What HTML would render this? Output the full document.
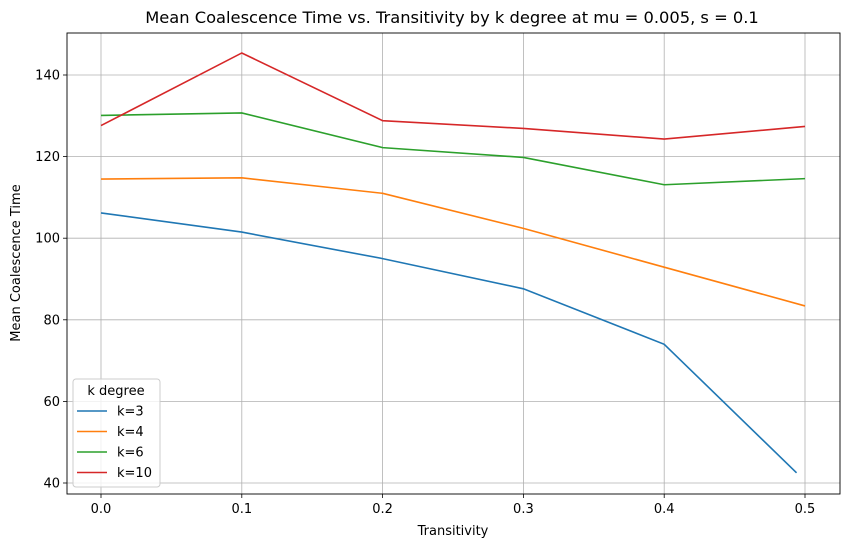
<!DOCTYPE html>
<html><head><meta charset="utf-8"><style>
body{margin:0;background:#fff;}
svg{font-family:"DejaVu Sans","Liberation Sans",sans-serif;}
</style></head><body>
<svg id="chart" width="850" height="547" viewBox="0 0 850 547">
<rect x="0" y="0" width="850" height="547" fill="#fff"/>
<text x="452" y="23" text-anchor="middle" font-size="16.3">Mean Coalescence Time vs. Transitivity by k degree at mu = 0.005, s = 0.1</text>
<g id="grid"></g>
<g id="series"></g>
<rect x="67" y="33" width="773" height="461" fill="none" stroke="#000" stroke-width="0.9"/>
<g id="ticks"></g>
<text x="453" y="535" text-anchor="middle" font-size="13">Transitivity</text>
<text transform="translate(20,263) rotate(-90)" text-anchor="middle" font-size="13">Mean Coalescence Time</text>
<g id="legend">
<rect x="73" y="379" width="87" height="108" rx="3" fill="#fff" fill-opacity="0.8" stroke="#ccc"/>
<text x="116" y="395" text-anchor="middle" font-size="13">k degree</text>
</g>
</svg>
<script>
const xs = [0.0, 0.1, 0.2, 0.3, 0.4, 0.5];
const xsK3 = [0.0, 0.1, 0.2, 0.3, 0.4, 0.494];
const k3 = [106.2, 101.5, 95.0, 87.6, 74.0, 42.5];
const k4 = [114.5, 114.8, 111.0, 102.4, 92.9, 83.4];
const k6 = [130.1, 130.7, 122.2, 119.8, 113.1, 114.6];
const k10 = [127.6, 145.4, 128.8, 126.9, 124.3, 127.4];
const labels = ["k=3", "k=4", "k=6", "k=10"];
const xTicks = [0.0, 0.1, 0.2, 0.3, 0.4, 0.5];
const yTicks = [40, 60, 80, 100, 120, 140];

const NS = "http://www.w3.org/2000/svg";
function X(v){return 101 + v*1408;}
function Y(v){return 483 - (v-40)*4.08;}
function mk(tag, attrs, parent){const e=document.createElementNS(NS,tag);for(const k in attrs)e.setAttribute(k,attrs[k]);parent.appendChild(e);return e;}
const grid=document.getElementById('grid'), ticks=document.getElementById('ticks'), ser=document.getElementById('series'), leg=document.getElementById('legend');
xTicks.forEach(t=>{
  const g=mk('line',{x1:X(t),x2:X(t),y1:33,y2:494,stroke:'#b0b0b0','stroke-width':0.8},grid);
  
  
  const tk=mk('line',{x1:X(t),x2:X(t),y1:494,y2:498,stroke:'#000','stroke-width':0.8},ticks);
  
  
  const tx=mk('text',{x:X(t),y:513,'text-anchor':'middle','font-size':13},ticks);
  tx.textContent=t.toFixed(1);
  
  
});
yTicks.forEach(t=>{
  const g=mk('line',{x1:67,x2:840,y1:Y(t),y2:Y(t),stroke:'#b0b0b0','stroke-width':0.8},grid);
  
  
  const tk=mk('line',{x1:63,x2:67,y1:Y(t),y2:Y(t),stroke:'#000','stroke-width':0.8},ticks);
  
  
  const tx=mk('text',{x:60,y:Y(t)+4.5,'text-anchor':'end','font-size':13},ticks);
  tx.textContent=t;
  
  
});
const series=[[xsK3,k3,'#1f77b4'],[xs,k4,'#ff7f0e'],[xs,k6,'#2ca02c'],[xs,k10,'#d62728']];
series.forEach((s,i)=>{
  const pts=s[0].map((x,j)=>X(x)+','+Y(s[1][j])).join(' ');
  const p=mk('polyline',{points:pts,fill:'none',stroke:s[2],'stroke-width':1.6},ser);
  
  
  const ly=411+i*20.5;
  const ll=mk('line',{x1:77,x2:107,y1:ly,y2:ly,stroke:s[2],'stroke-width':1.6},leg);
  
  
  const lt=mk('text',{x:117,y:ly+4.5,'font-size':13},leg);
  lt.textContent=labels[i];
  
  
});
</script>
</body></html>
